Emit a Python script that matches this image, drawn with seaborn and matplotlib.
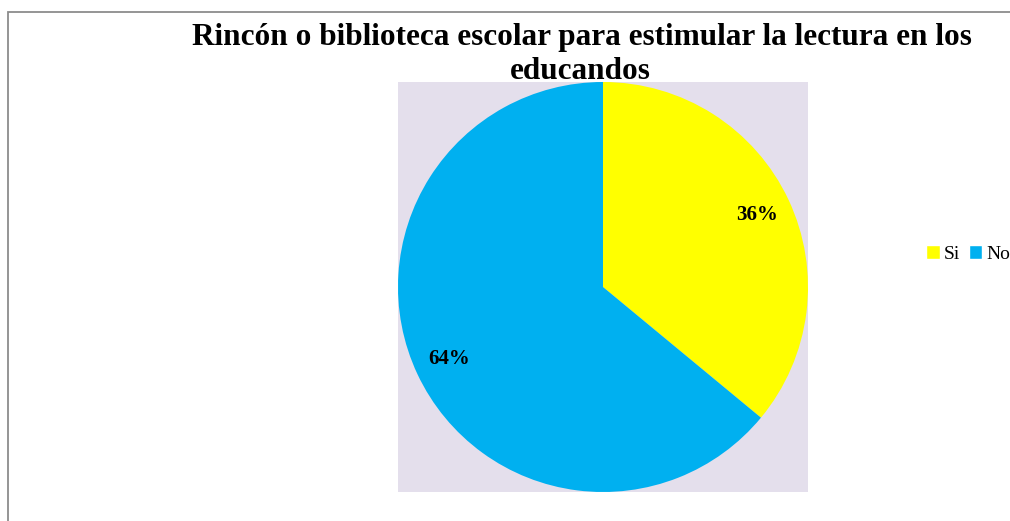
import seaborn as sns
import matplotlib.pyplot as plt
from matplotlib.patches import Patch, Rectangle

# datos
categorias = ["Si", "No"]
porcentajes = [36, 64]
colores = ["#FFFF00", "#00B0F0"]
titulo_1 = "Rincón o biblioteca escolar para estimular la lectura en los"
titulo_2 = "educandos"

sns.set_theme(style="white")
plt.rcParams['font.family'] = ['Liberation Serif', 'DejaVu Serif']
plt.rcParams['text.color'] = "black"

fig = plt.figure(figsize=(10.1, 5.21), dpi=100)
W, H = 1010, 521

# marco del gráfico
fig.patches.append(Rectangle((7.5 / W, -0.1), 1.2, (H - 11.5) / H + 0.1,
                             transform=fig.transFigure, fill=False,
                             edgecolor="#8c8c8c", linewidth=1.3))

ax = fig.add_axes([398 / W, (H - 492) / H, 410 / W, 410 / H])
wedges, textos, autotextos = ax.pie(porcentajes, colors=colores, startangle=90,
                                    counterclock=False, autopct='%1.0f%%',
                                    pctdistance=0.83,
                                    wedgeprops=dict(linewidth=0),
                                    textprops=dict(fontsize=15, fontweight="bold", color="black"))
ax.set_frame_on(True)
for s in ax.spines.values():
  s.set_visible(False)
ax.set_facecolor("#E4DFEC")
ax.set_xlim(-1, 1)
ax.set_ylim(-1, 1)

# título en dos líneas
fig.text(582 / W, 1 - 45 / H, titulo_1, ha="center", va="baseline", fontsize=22.5,
         fontweight="bold", color="black")
fig.text(580 / W, 1 - 79 / H, titulo_2, ha="center", va="baseline", fontsize=22.5,
         fontweight="bold", color="black", zorder=-1)

handles = [Patch(facecolor=c, label=l) for c, l in zip(colores, categorias)]
fig.legend(handles=handles, loc="center left", bbox_to_anchor=(926 / W, 1 - 254 / H),
           ncol=2, frameon=False, fontsize=14, handlelength=0.7, handleheight=0.7,
           handletextpad=0.2, columnspacing=0.45, borderaxespad=0, borderpad=0)

fig.savefig("out.png", dpi=100)
